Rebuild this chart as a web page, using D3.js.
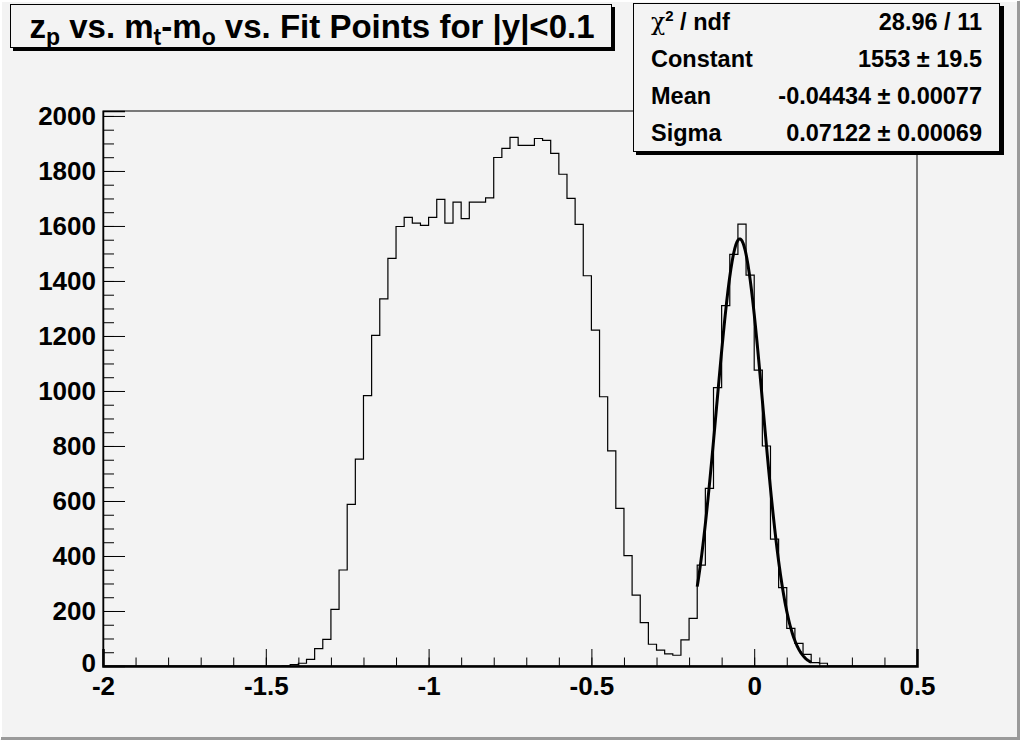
<!DOCTYPE html>
<html>
<head>
<meta charset="utf-8">
<script src="https://cdn.jsdelivr.net/npm/d3@7"></script>
<style>
  html, body { margin: 0; padding: 0; background: #f3f3f3; }
  svg { display: block; }
  text { font-family: "Liberation Sans", Arial, sans-serif; font-weight: bold; fill: #000; }
</style>
</head>
<body>
<script>
// histogram: 100 bins from -2 to 0.5
var xMin = -2, xMax = 0.5, nBins = 100;
var binCounts = [
  0, 0, 0, 0, 0, 0, 0, 0, 0, 0,
  0, 0, 0, 0, 0, 0, 0, 0, 0, 0,
  0, 0, 1, 5, 10, 24, 63, 97, 206, 349,
  588, 752, 983, 1202, 1335, 1482, 1598, 1631, 1610, 1602,
  1631, 1697, 1610, 1687, 1627, 1687, 1687, 1702, 1849, 1882,
  1922, 1893, 1893, 1918, 1911, 1864, 1788, 1700, 1606, 1419,
  1221, 979, 782, 573, 401, 258, 158, 79, 58, 44,
  39, 95, 173, 367, 646, 1012, 1310, 1497, 1607, 1421,
  1076, 800, 461, 285, 137, 82, 42, 12, 10, 0,
  0, 0, 0, 0, 0, 0, 0, 0, 0, 0
];

// gaussian fit
var fitConstant = 1553, fitMean = -0.04434, fitSigma = 0.07122;
var fitRange = [-0.175, 0.175];

var xTicks = [-2, -1.5, -1, -0.5, 0, 0.5];
var xTickLabels = ["-2", "-1.5", "-1", "-0.5", "0", "0.5"];
var yTicks = [0, 200, 400, 600, 800, 1000, 1200, 1400, 1600, 1800, 2000];
var yMax = 2018;

var statLabels = ["χ2 / ndf", "Constant", "Mean", "Sigma"];
var statValues = ["28.96 / 11", "1553 ± 19.5", "-0.04434 ± 0.00077", "0.07122 ± 0.00069"];

var W = 1020, H = 740;
var margin = {top: 111, right: 103, bottom: 74, left: 103},
    width = W - margin.left - margin.right,
    height = H - margin.top - margin.bottom;

var x = d3.scaleLinear().domain([xMin, xMax]).range([0, width]);
var y = d3.scaleLinear().domain([0, yMax]).range([height, 0]);

var svg = d3.select("body").append("svg")
    .attr("width", W)
    .attr("height", H);

// canvas background with bevel
svg.append("rect").attr("width", W).attr("height", H).attr("fill", "#f3f3f3");
svg.append("path").attr("d", "M1,739 V1 H1019").attr("fill", "none").attr("stroke", "#ffffff").attr("stroke-width", 2);
svg.append("path").attr("d", "M1,738.5 H1018.5 V1").attr("fill", "none").attr("stroke", "#9a9a9a").attr("stroke-width", 3);

var g = svg.append("g")
    .attr("transform", "translate(" + margin.left + "," + margin.top + ")");

// frame
g.append("rect")
    .attr("width", width).attr("height", height)
    .attr("fill", "none").attr("stroke", "#000").attr("stroke-width", 1);

// histogram outline
var bw = (xMax - xMin) / nBins;
var pts = binCounts.map(function(c, i) { return [xMin + i * bw, c]; });
pts.push([xMax, binCounts[nBins - 1]]);
pts.unshift([xMin, 0]);
var histLine = d3.line()
    .x(function(d) { return x(d[0]); })
    .y(function(d) { return y(d[1]); })
    .curve(d3.curveStepAfter);
g.append("path")
    .datum(pts)
    .attr("fill", "none")
    .attr("stroke", "#000")
    .attr("stroke-width", 1.2)
    .attr("d", histLine);

// fit curve
var fitPts = d3.range(0, 201).map(function(k) {
  var xv = fitRange[0] + (fitRange[1] - fitRange[0]) * k / 200;
  var z = (xv - fitMean) / fitSigma;
  return [xv, fitConstant * Math.exp(-0.5 * z * z)];
});
g.append("path")
    .datum(fitPts)
    .attr("fill", "none")
    .attr("stroke", "#000")
    .attr("stroke-width", 3)
    .attr("stroke-linejoin", "round")
    .attr("d", d3.line().x(function(d) { return x(d[0]); }).y(function(d) { return y(d[1]); }));

// x axis
var xMinor = d3.range(-20, 6).map(function(k) { return k / 10; });
g.append("g")
    .attr("transform", "translate(0," + height + ")")
    .call(d3.axisBottom(x).tickValues(xMinor).tickSize(-8.5).tickFormat(""))
    .call(function(a) { a.select(".domain").remove(); });
var xAxis = g.append("g")
    .attr("transform", "translate(0," + height + ")")
    .call(d3.axisBottom(x).tickValues(xTicks).tickSize(-17).tickPadding(9)
      .tickFormat(function(d, i) { return xTickLabels[i]; }));
xAxis.select(".domain").attr("stroke-width", 2.5);
xAxis.selectAll("text")
    .attr("y", 11)
    .attr("dy", "0.71em")
    .style("font-size", "26px")
    .style("font-family", "'Liberation Sans', Arial, sans-serif")
    .style("font-weight", "bold");

// y axis
var yMinor = d3.range(0, 2001, 50);
g.append("g")
    .call(d3.axisLeft(y).tickValues(yMinor).tickSize(-11).tickFormat(""))
    .call(function(a) { a.select(".domain").remove(); });
var yAxis = g.append("g")
    .call(d3.axisLeft(y).tickValues(yTicks).tickSize(-22).tickPadding(8).tickFormat(d3.format("d")));
yAxis.select(".domain").attr("stroke-width", 1.5);
yAxis.selectAll("text")
    .attr("x", -7)
    .style("font-size", "26px")
    .style("font-family", "'Liberation Sans', Arial, sans-serif")
    .style("font-weight", "bold");
// the "0" label sits just above the x labels, as in the reference
yAxis.selectAll(".tick").filter(function(d) { return d === 0; }).select("text").attr("dy", "0.2em");

// title box
svg.append("rect").attr("x", 13).attr("y", 7).attr("width", 602).attr("height", 44).attr("fill", "#000");
svg.append("rect").attr("x", 10.5).attr("y", 4.5).attr("width", 601).attr("height", 43)
    .attr("fill", "#f3f3f3").attr("stroke", "#000").attr("stroke-width", 1);
var title = svg.append("text")
    .attr("x", 312).attr("y", 38)
    .attr("text-anchor", "middle")
    .style("font-size", "33px");
title.append("tspan").text("z");
title.append("tspan").attr("dy", 7).style("font-size", "23px").text("p");
title.append("tspan").attr("dy", -7).text(" vs. m");
title.append("tspan").attr("dy", 7).style("font-size", "23px").text("t");
title.append("tspan").attr("dy", -7).text("-m");
title.append("tspan").attr("dy", 7).style("font-size", "23px").text("o");
title.append("tspan").attr("dy", -7).text(" vs. Fit Points for |y|<0.1");

// stats box
svg.append("rect").attr("x", 636).attr("y", 6).attr("width", 368).attr("height", 149).attr("fill", "#000");
svg.append("rect").attr("x", 633.5).attr("y", 3.5).attr("width", 366).attr("height", 148)
    .attr("fill", "#f3f3f3").attr("stroke", "#000").attr("stroke-width", 1);
var rowY = d3.scaleBand().domain(d3.range(statLabels.length)).range([3, 151]);
statLabels.forEach(function(lab, i) {
  var cy = rowY(i) + rowY.bandwidth() / 2 + 8;
  var t = svg.append("text").attr("x", 651).attr("y", cy).style("font-size", "23.5px");
  if (i === 0) {
    t.append("tspan").style("font-family", "'DejaVu Serif', serif").style("font-weight", "normal").text("χ");
    t.append("tspan").attr("dy", -9).style("font-size", "15px").text("2");
    t.append("tspan").attr("dy", 9).text(" / ndf");
  } else {
    t.text(lab);
  }
  svg.append("text").attr("x", 982).attr("y", cy)
      .attr("text-anchor", "end").style("font-size", "23.5px")
      .text(statValues[i]);
});
</script>
</body>
</html>
